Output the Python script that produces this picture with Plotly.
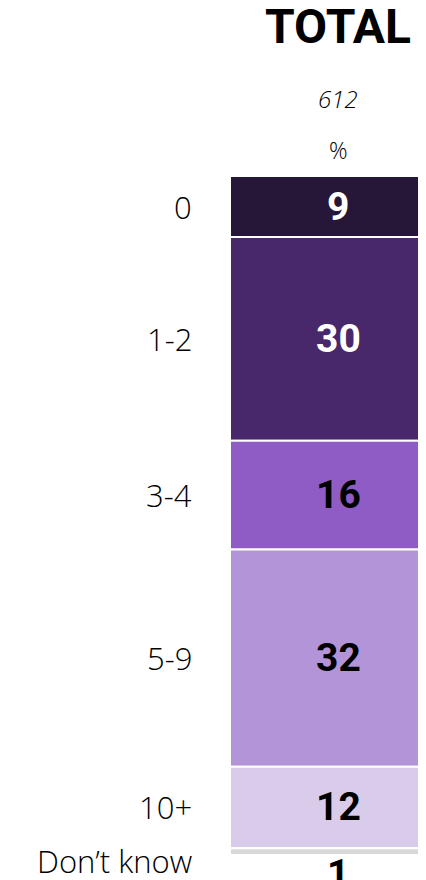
import plotly.graph_objects as go

categories = ["0", "1-2", "3-4", "5-9", "10+", "Don’t know"]
values = [9, 30, 16, 32, 12, 1]
colors = ["#261638", "#48276a", "#8f5bc4", "#b394d8", "#d9cbea", "#d9d9d9"]
text_colors = ["white", "white", "black", "black", "black", "black"]
column_title = "TOTAL"
base_n = "612"
unit = "%"

FONT = "Roboto"
LABEL_FONT = "Open Sans"

fig = go.Figure()
bases = []
acc = 0
for v in values:
    bases.append(acc)
    acc += v

for cat, v, b, c in zip(categories, values, bases, colors):
    fig.add_trace(go.Bar(
        x=[0], y=[v], base=[b], width=[1], name=cat,
        marker=dict(color=c, line=dict(color="white", width=2)),
        hoverinfo="skip", showlegend=False,
    ))

annotations = []
for cat, v, b, tc in zip(categories, values, bases, text_colors):
    mid = b + v / 2
    small = v < 3
    if small:
        annotations.append(dict(x=0, y=b + v, xref="x", yref="y", text=f"<b>{v}</b>",
                                showarrow=False, yanchor="top", xanchor="center", yshift=6,
                                font=dict(family=FONT, size=39, color=tc)))
    else:
        annotations.append(dict(x=0, y=mid, xref="x", yref="y", text=f"<b>{v}</b>",
                                showarrow=False, yanchor="middle", xanchor="center",
                                font=dict(family=FONT, size=39, color=tc)))
    annotations.append(dict(x=-0.184, y=mid, xref="paper", yref="y", text=cat,
                            showarrow=False, yanchor="middle", xanchor="right",
                            yshift=-9 if small else 0,
                            font=dict(family=LABEL_FONT, size=31, color="black", weight=300)))

annotations.append(dict(x=0, y=1, xref="x", yref="paper", text=f"<b>{column_title}</b>",
                        showarrow=False, yanchor="middle", xanchor="center", yshift=150,
                        font=dict(family=FONT, size=48, color="black")))
annotations.append(dict(x=0, y=1, xref="x", yref="paper", text=f"<i>{base_n}</i>",
                        showarrow=False, yanchor="middle", xanchor="center", yshift=78,
                        font=dict(family=LABEL_FONT, size=24, color="black", weight=300)))
annotations.append(dict(x=0, y=1, xref="x", yref="paper", text=unit,
                        showarrow=False, yanchor="middle", xanchor="center", yshift=26,
                        font=dict(family=LABEL_FONT, size=23, color="black", weight=300)))

fig.update_layout(
    width=418, height=872,
    margin=dict(l=222, r=0, t=168, b=25, autoexpand=False),
    paper_bgcolor="white", plot_bgcolor="white",
    barmode="overlay",
    xaxis=dict(range=[-0.5, 0.407], visible=False, fixedrange=True),
    yaxis=dict(range=[100, 0], visible=False, fixedrange=True),
    annotations=annotations,
)

fig.write_html("out.html", config={"displayModeBar": False})
